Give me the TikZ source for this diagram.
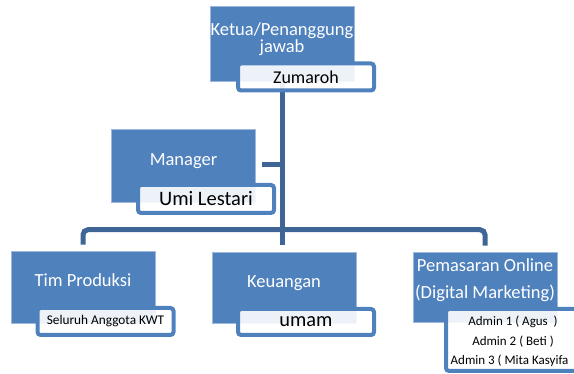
\documentclass[tikz,border=0pt]{standalone}
\usepackage{fontspec}
\setmainfont{Carlito}
\usetikzlibrary{calc,backgrounds}
\definecolor{BoxBlue}{HTML}{4F81BD}
\definecolor{LineBlue}{HTML}{3E6595}
\definecolor{RimBlue}{HTML}{9DB8DC}

\begin{document}
\begin{tikzpicture}[x=1pt,y=-1pt,
  role/.style={draw=RimBlue,line width=0.6pt,fill=BoxBlue,text=white,align=center,
    minimum width=144pt,minimum height=72pt,inner sep=0pt,
    font=\fontsize{18.5}{22}\selectfont,text height=6pt,text depth=6pt},
  holder/.style={draw=BoxBlue,line width=4pt,rounded corners=3pt,fill=white,
    fill opacity=0.9,text opacity=1,align=center,inner sep=0pt,
    minimum width=136pt,minimum height=27pt,text=black},
  edge/.style={draw=LineBlue,line width=5pt}
]
\useasboundingbox (0,0) rectangle (574,374);
\clip (0,0) rectangle (574,374);

% Top: head of the group.
\node[role,minimum height=75pt,font=\fontsize{18.5}{17.3}\selectfont,
  text height=19pt,text depth=0pt] (head) at (282,43.5) {Ketua/Penanggung\\jawab};
\node[holder,font=\fontsize{18}{22}\selectfont] (zum) at (306,77) {Zumaroh};

% Assistant: manager.
\node[role,minimum height=73pt] (mgr) at (183.5,165.5) {Manager};
\node[holder,minimum height=28pt,font=\fontsize{20.5}{24}\selectfont] (umi) at (206,199) {Umi Lestari};
\coordinate (mgrjoin) at (262,164.5);

% Bottom row: three divisions.
\node[role] (tim) at (83,287) {Tim Produksi};
\node[holder,font=\fontsize{13.3}{16}\selectfont] (sel) at (105.5,321.5) {Seluruh Anggota KWT};

\node[role,minimum height=71pt] (keu) at (284,287.5) {Keuangan};
\node[holder,minimum height=26pt,font=\fontsize{20.4}{24}\selectfont] (umam) at (306,322) {umam};

\node[role,minimum height=70pt,font=\fontsize{18.5}{27.3}\selectfont,
  text height=24pt,text depth=0pt] (pem) at (485,287) {Pemasaran Online\\(Digital Marketing)};
\node[holder,minimum width=134pt,minimum height=62pt,font=\fontsize{13}{19.5}\selectfont,
  text height=52.6pt,text depth=2.6pt]
  (adm) at (513,340) {Admin 1 ( Agus\ \ )\\Admin 2 ( Beti )\\Admin 3 ( Mita Kasyifa\phantom{\ )}};

% Connectors sit behind the boxes.
\begin{scope}[on background layer]
\draw[edge] (head.south) -- ($(keu.north -| head.south)+(0,-7)$);
\draw[edge] (mgrjoin) -- (mgrjoin -| head.south);
\draw[edge,rounded corners=5pt] ($(tim.north)+(0,-6)$) -- ++(0,-15)
  -| ($(pem.north)+(0,-6)$);
\end{scope}
\end{tikzpicture}
\end{document}
